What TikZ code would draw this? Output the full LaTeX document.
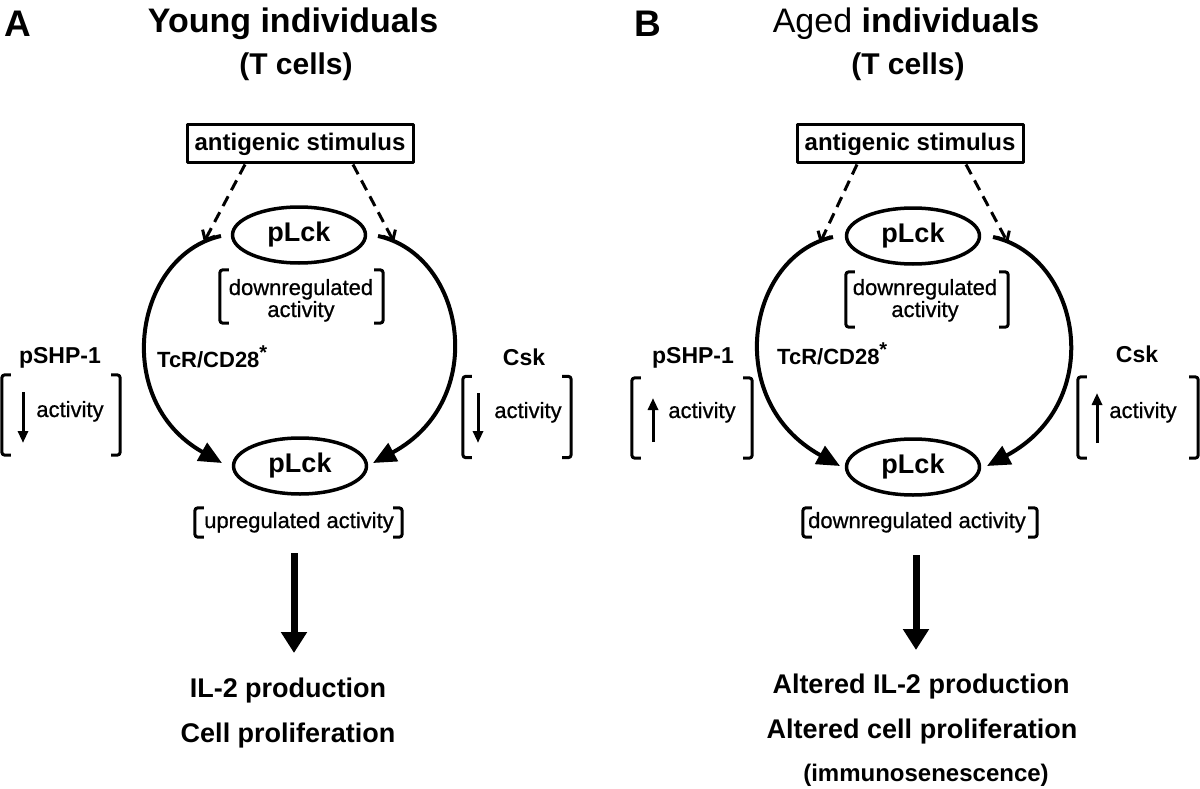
\documentclass[tikz,border=0pt]{standalone}
\usepackage{fontspec}
\setmainfont{Liberation Sans}
\usetikzlibrary{arrows.meta,shapes.geometric}
\tikzset{lbl/.style={font=\bfseries\fontsize{37}{40}\selectfont,inner sep=0pt,anchor=base},
	ttl/.style={font=\bfseries\fontsize{34}{36}\selectfont,inner sep=0pt,anchor=base},
	sub/.style={font=\bfseries\fontsize{30}{32}\selectfont,inner sep=0pt,anchor=base},
	stim/.style={draw,line width=3pt,font=\bfseries\fontsize{24}{26}\selectfont,minimum width=226pt,minimum height=38pt,inner sep=0pt},
	kin/.style={draw,ellipse,line width=3.5pt,font=\bfseries\fontsize{27}{30}\selectfont,minimum width=133pt,minimum height=56pt,inner sep=0pt},
	brtxt/.style={font=\fontsize{22}{24}\selectfont\addfontfeature{FakeBold=0.8},inner sep=0pt,anchor=base},
	prot/.style={font=\bfseries\fontsize{23}{26}\selectfont,inner sep=0pt,anchor=base},
	outc/.style={font=\bfseries\fontsize{27}{30}\selectfont,inner sep=0pt,anchor=base},
	brkbox/.style={inner sep=0pt},
	brk/.style={line width=3pt,rounded corners=3pt},
	trig/.style={line width=3pt,dash pattern=on 11pt off 7pt,-{Straight Barb[length=8pt,width=14pt]}},
	loopy/.style={line width=4pt,-{Triangle[length=23pt,width=20pt]}},
	fat/.style={line width=7pt,-{Triangle[length=21pt,width=25pt]}},
	small/.style={line width=3pt,-{Triangle[length=12pt,width=10pt]}}}

\begin{document}
\begin{tikzpicture}[x=1pt,y=-1pt,line join=round]
\useasboundingbox (0,0) rectangle (1200,789);

% A: young
\node[lbl] (labA) at (18,37) {A};
\node[ttl] (titA) at (293,33) {Young individuals};
\node[sub] (tcA) at (296,75) {(T cells)};
\node[stim] (stimA) at (300,144) {antigenic stimulus};
\node[kin] (topA) at (299,235) {pLck};
\node[kin] (botA) at (300,466) {pLck};
\node[brkbox,minimum width=163pt,minimum height=53pt] (dnA) at (301.5,296.5) {};
\node[brtxt] (dnA1) at (301,295) {downregulated};
\node[brtxt] (dnA2) at (301,317) {activity};
\node[brkbox,minimum width=207pt,minimum height=29pt] (upA) at (298.5,522.5) {};
\node[brtxt] (upAt) at (299,528) {upregulated activity};
\node[prot] (shpAl) at (60,363) {pSHP-1};
\node[brkbox,minimum width=118pt,minimum height=80pt] (shpA) at (61,415) {};
\node[brtxt] (shpAt) at (70,417) {activity};
\node[prot] (cskAl) at (524,365) {Csk};
\node[brkbox,minimum width=108pt,minimum height=81pt] (cskA) at (517,417) {};
\node[brtxt] (cskAt) at (528,418) {activity};
\node[prot,font=\bfseries\fontsize{22}{24}\selectfont,anchor=base west] (tcrA) at (157,367) {TcR/CD28\raisebox{8pt}{\fontsize{20}{20}\selectfont *}};
\node[outc] (ilA) at (288,697) {IL-2 production};
\node[outc] (prA) at (288,742) {Cell proliferation};

\coordinate (inAl) at (204,242);
\coordinate (inAr) at (394,242);
\draw[trig] ([xshift=-55pt]stimA.south) -- (inAl);
\draw[trig] ([xshift=53pt]stimA.south) -- (inAr);
\draw[loopy] (221,236) .. controls (135,255) and (110,400) .. (222,463);
\draw[loopy] (378,236) .. controls (465,255) and (490,400) .. (373,463);
\draw[small] (23,392) -- (23,443);
\draw[small] (478,393) -- (478,443);
\coordinate (fromA) at (294,553);
\coordinate (toA) at (294,653);
\draw[fat] (fromA) -- (toA);

% B: aged
\node[lbl] (labB) at (648,37) {B};
\node[ttl] (titB) at (906,33) {{\mdseries Aged} individuals};
\node[sub] (tcB) at (908,75) {(T cells)};
\node[stim] (stimB) at (910,144) {antigenic stimulus};
\node[kin] (topB) at (913,236) {pLck};
\node[kin] (botB) at (913,467) {pLck};
\node[brkbox,minimum width=162pt,minimum height=55pt] (dnB) at (927,299.5) {};
\node[brtxt] (dnB1) at (925,295) {downregulated};
\node[brtxt] (dnB2) at (925,317) {activity};
\node[brkbox,minimum width=234pt,minimum height=29pt] (lowB) at (920,522.5) {};
\node[brtxt] (lowBt) at (917,528) {downregulated activity};
\node[prot] (shpBl) at (693,363) {pSHP-1};
\node[brkbox,minimum width=120pt,minimum height=80pt] (shpB) at (692,418) {};
\node[brtxt] (shpBt) at (702,418) {activity};
\node[prot] (cskBl) at (1137,362) {Csk};
\node[brkbox,minimum width=120pt,minimum height=81pt] (cskB) at (1138,417.5) {};
\node[brtxt] (cskBt) at (1143,418) {activity};
\node[prot,font=\bfseries\fontsize{22}{24}\selectfont,anchor=base west] (tcrB) at (777,364) {TcR/CD28\raisebox{8pt}{\fontsize{20}{20}\selectfont *}};
\node[outc] (ilB) at (921,693) {Altered IL-2 production};
\node[outc] (prB) at (922,738) {Altered cell proliferation};
\node[outc,font=\bfseries\fontsize{24}{26}\selectfont] (imB) at (926,781) {(immunosenescence)};

\coordinate (inBl) at (820,243);
\coordinate (inBr) at (1008,243);
\draw[trig] ([xshift=-53pt]stimB.south) -- (inBl);
\draw[trig] ([xshift=56pt]stimB.south) -- (inBr);
\draw[loopy] (833,237) .. controls (747,256) and (722,401) .. (840,466);
\draw[loopy] (993,237) .. controls (1080,256) and (1108,401) .. (987,466);
\draw[small] (653,442) -- (653,398);
\draw[small] (1097,443) -- (1097,393);
\coordinate (fromB) at (916,555);
\coordinate (toB) at (916,650);
\draw[fat] (fromB) -- (toB);

% brackets
\foreach \b in {dnA,upA,shpA,cskA,dnB,lowB,shpB,cskB} {
	\draw[brk] ([xshift=9pt]\b.north west) -- (\b.north west) -- (\b.south west) -- ([xshift=9pt]\b.south west);
	\draw[brk] ([xshift=-9pt]\b.north east) -- (\b.north east) -- (\b.south east) -- ([xshift=-9pt]\b.south east);
};
\end{tikzpicture}
\end{document}
